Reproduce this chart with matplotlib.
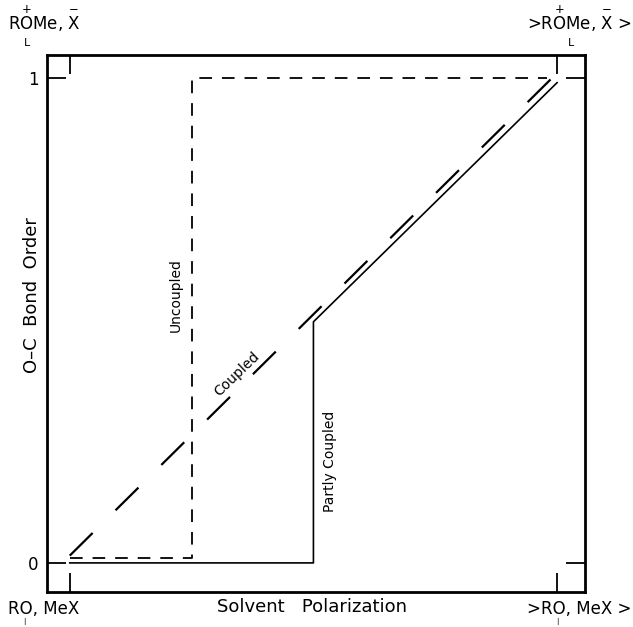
import matplotlib.pyplot as plt

# curves (x = solvent polarization, y = O-C bond order)
uncoupled_x = [0.0, 0.25, 0.25, 0.98]
uncoupled_y = [0.01, 0.01, 1.0, 1.0]

coupled_x = [0.0, 0.99]
coupled_y = [0.015, 1.0]

partly_x = [0.0, 0.5, 0.5, 1.0]
partly_y = [0.0, 0.0, 0.497, 0.99]

yticks = [0, 1]
ytick_labels = ['0', '1']
xticks = [0, 1]

fig = plt.figure(figsize=(6.33, 6.27), dpi=100)
ax = fig.add_axes([0.074, 0.0558, 0.850, 0.8565])

ax.plot(uncoupled_x, uncoupled_y, color='black', lw=1.3, dashes=(7, 5.5))
ax.plot(coupled_x, coupled_y, color='black', lw=1.6, dashes=(14.5, 14.5))
ax.plot(partly_x, partly_y, color='black', lw=1.2)

ax.set_xlim(-0.047, 1.057)
ax.set_ylim(-0.06, 1.047)

ax.set_xticks(xticks)
ax.set_xticklabels([])
ax.set_yticks(yticks)
ax.set_yticklabels(ytick_labels, fontsize=12)
ax.tick_params(direction='in', length=14, width=1.3, top=True, right=True, pad=6)
for s in ax.spines.values():
    s.set_linewidth(2)

fig.text(32 / 633, 1 - 295 / 627, 'O–C  Bond  Order', rotation=90,
         fontsize=13, ha='center', va='center')
fig.text(312 / 633, 1 - 607 / 627, 'Solvent   Polarization',
         fontsize=13, ha='center', va='center')

ax.text(0.218, 0.553, 'Uncoupled', rotation=90, fontsize=10, ha='center', va='center')
ax.text(0.343, 0.39, 'Coupled', rotation=44, fontsize=10, ha='center', va='center')
ax.text(0.534, 0.21, 'Partly Coupled', rotation=90, fontsize=10, ha='center', va='center')

# corner labels (chemical states)
top_left = r'R$\overset{+}{\mathrm{O}}$Me, $\overset{-}{\mathrm{X}}$'
top_right = r'>R$\overset{+}{\mathrm{O}}$Me, $\overset{-}{\mathrm{X}}$ >'
fig.text(0.012, 0.97, top_left, fontsize=12, ha='left', va='center')
fig.text(0.038, 0.932, 'L', fontsize=8, ha='left', va='center')
fig.text(0.998, 0.97, top_right, fontsize=12, ha='right', va='center')
fig.text(0.897, 0.932, 'L', fontsize=8, ha='left', va='center')
fig.text(0.012, 0.028, 'RO, MeX', fontsize=12, ha='left', va='center')
fig.text(0.036, 0.009, '|', fontsize=5, ha='left', va='center')
fig.text(0.998, 0.028, '>RO, MeX >', fontsize=12, ha='right', va='center')
fig.text(0.878, 0.009, '|', fontsize=5, ha='left', va='center')

fig.savefig('out.png', dpi=100)
